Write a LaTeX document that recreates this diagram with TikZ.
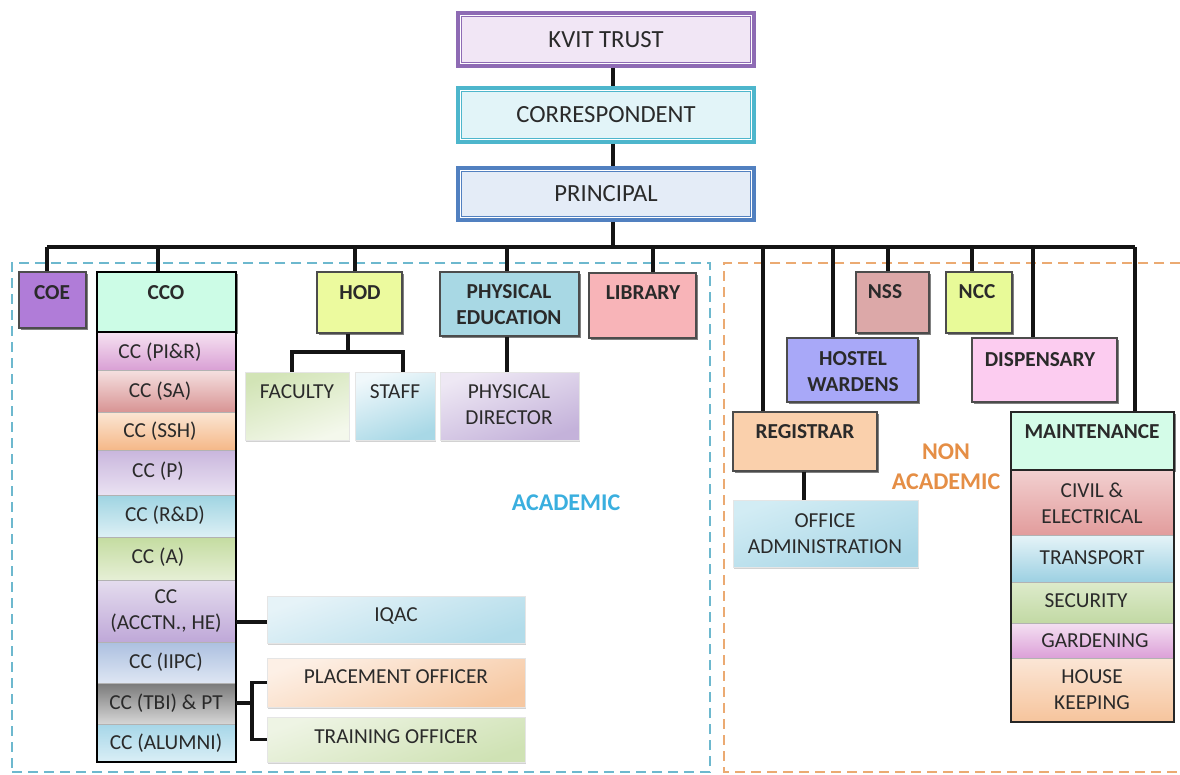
\documentclass[tikz,border=0pt]{standalone}
\usepackage{fontspec}
\setmainfont{Carlito}
\usetikzlibrary{fit,shadows}
\definecolor{txt}{HTML}{2A2A2A}
\definecolor{acadc}{HTML}{3AAFDF}
\definecolor{nonc}{HTML}{E58E45}
\definecolor{acadl}{HTML}{6DB8CE}
\definecolor{nonl}{HTML}{EBAA72}
\definecolor{kvitD}{HTML}{8E6BB4}
\definecolor{kvitL}{HTML}{F1E6F5}
\definecolor{corD}{HTML}{4DB6CC}
\definecolor{corL}{HTML}{E2F4F8}
\definecolor{prinD}{HTML}{5180C0}
\definecolor{prinL}{HTML}{E4ECF7}
\definecolor{coeF}{HTML}{B07CD8}
\definecolor{ccoF}{HTML}{CCFCE6}
\definecolor{hodF}{HTML}{ECFA9E}
\definecolor{peF}{HTML}{A8D8E4}
\definecolor{libF}{HTML}{F8B4B8}
\definecolor{regF}{HTML}{FAD0AC}
\definecolor{hwF}{HTML}{A8A8F8}
\definecolor{nssF}{HTML}{DCA8A8}
\definecolor{nccF}{HTML}{E8FA98}
\definecolor{dispF}{HTML}{FCCCF0}
\definecolor{mntF}{HTML}{D4FCE8}
\begin{document}
\begin{tikzpicture}[x=0.75pt,y=-0.75pt,
  conn/.style={line width=2.3pt, draw=black!92},
  topbox/.style={inner sep=0pt, draw=#1, line width=2.8pt, fill=white},
  bx/.style={inner sep=0pt, draw=black!70, line width=0.8pt, fill=#1,
    drop shadow={shadow xshift=1.3pt, shadow yshift=-1.6pt, fill=black!70, opacity=.7}},
  hexcols/.code 2 args={\definecolor{tmpA}{HTML}{#1}\definecolor{tmpB}{HTML}{#2}},
  soft/.style 2 args={hexcols={#1}{#2}, inner sep=0pt, draw=black!10, line width=0.5pt, top color=tmpA, bottom color=tmpB, shading angle=20,
    drop shadow={shadow xshift=1pt, shadow yshift=-1.3pt, fill=black!35, opacity=.5}},
  crow/.style 2 args={hexcols={#1}{#2}, inner sep=0pt, draw=black!30, line width=0.5pt, top color=tmpA, bottom color=tmpB},
  lb/.style={font=\fontsize{16}{19.5}\selectfont\bfseries, text=txt, align=center, inner sep=0pt},
  lr/.style={font=\fontsize{16}{19.5}\selectfont, text=txt, align=center, inner sep=0pt},
  lt/.style={font=\fontsize{18.5}{22}\selectfont, text=txt, align=center, inner sep=0pt},
  zone/.style={font=\fontsize{18}{22.5}\selectfont\bfseries, text=#1, align=center, inner sep=0pt}
]
\useasboundingbox (0,0) rectangle (1180,774);
\fill[white] (0,0) rectangle (1180,774);

% zones
\node[inner sep=0pt, draw=acadl, line width=1.6pt, dash pattern=on 7.5pt off 4.5pt, fit={(12,263)(710,772)}] (acadzone) {};
\coordinate (nzTR) at (1180,263);
\coordinate (nzBL) at (724,772);
\draw[nonl, line width=1.6pt, dash pattern=on 7.5pt off 4.5pt] (nzTR) -- (nzTR -| nzBL) -- (nzBL) -- (nzBL -| nzTR);

% top chain
\node[topbox=kvitD, fit={(458,13)(754,66)}] (kvit) {};
\draw[kvitD, line width=.9pt, fill=kvitL] ([shift={(4pt,-4pt)}]kvit.north west) rectangle ([shift={(-4pt,4pt)}]kvit.south east);
\node[lt] (tkvit) at (606,40) {KVIT TRUST};
\node[topbox=corD, fit={(458,88)(754,142)}] (corr) {};
\draw[corD, line width=.9pt, fill=corL] ([shift={(4pt,-4pt)}]corr.north west) rectangle ([shift={(-4pt,4pt)}]corr.south east);
\node[lt] (tcorr) at (606,115) {CORRESPONDENT};
\node[topbox=prinD, fit={(458,168)(754,220)}] (prin) {};
\draw[prinD, line width=.9pt, fill=prinL] ([shift={(4pt,-4pt)}]prin.north west) rectangle ([shift={(-4pt,4pt)}]prin.south east);
\node[lt] (tprin) at (606,194) {PRINCIPAL};

\coordinate (spine) at (613,247);
\draw[conn] (spine |- kvit.south) -- (spine |- corr.north);
\draw[conn] (spine |- corr.south) -- (spine |- prin.north);
\draw[conn] (spine |- prin.south) -- (spine);

% bus
\coordinate (busL) at (47,247);
\coordinate (busR) at (1135,247);
\draw[conn] (busL) -- (busR);

% academic nodes
\node[bx=coeF, fit={(19,272)(86,328)}] (coe) {};
\node[lb] (tcoe) at (52,293) {COE};
\node[bx=ccoF, draw=black, line width=1.3pt, fit={(97,272)(236,332)}] (cco) {};
\node[lb] (tcco) at (166,293) {CCO};

\node[crow={F6E2F1}{D9A0D5}, fit={(97,332)(236,370)}] (r1) {};
\node[crow={F5E0E0}{D89494}, fit={(97,370)(236,412)}] (r2) {};
\node[crow={FBE6D4}{F5B888}, fit={(97,412)(236,450)}] (r3) {};
\node[crow={C9B6DD}{EAE2F2}, fit={(97,450)(236,495)}] (r4) {};
\node[crow={9FD4E2}{DDF0F5}, fit={(97,495)(236,537)}] (r5) {};
\node[crow={C4DCA0}{E6EFD6}, fit={(97,537)(236,580)}] (r6) {};
\node[crow={E4DCEE}{BFA8D8}, fit={(97,580)(236,642)}] (r7) {};
\node[crow={ACC0E0}{DEE6F3}, fit={(97,642)(236,683)}] (r8) {};
\node[crow={7A7A7A}{D6D6D6}, fit={(97,683)(236,724)}] (r9) {};
\node[crow={A6D6E8}{DAEFF6}, fit={(97,724)(236,762)}] (r10) {};
\draw[line width=1.6pt, black] (r1.north west) rectangle (r10.south east);
\node[lr] (tr1) at (160,352) {CC (PI\&R)};
\node[lr] (tr2) at (160,391) {CC (SA)};
\node[lr] (tr3) at (160,431) {CC (SSH)};
\node[lr] (tr4) at (158,471) {CC (P)};
\node[lr] (tr5) at (165,515) {CC (R\&D)};
\node[lr] (tr6) at (158,557) {CC (A)};
\node[lr] (tr7) at (166,611) {CC\\(ACCTN., HE)};
\node[lr] (tr8) at (166,662) {CC (IIPC)};
\node[lr] (tr9) at (166,703) {CC (TBI) \& PT};
\node[lr] (tr10) at (166,743) {CC (ALUMNI)};

\node[bx=hodF, fit={(317,272)(402,333)}] (hod) {};
\node[lb] (thod) at (360,293) {HOD};
\node[soft={D2E4B6}{F4F8EC}, fit={(245,372)(349,440)}] (fac) {};
\node[lr] (tfac) at (297,392) {FACULTY};
\node[soft={F0F8FB}{A8D8E6}, fit={(355,372)(435,440)}] (staff) {};
\node[lr] (tstaff) at (395,392) {STAFF};
\node[bx=peF, fit={(440,272)(579,336)}] (pe) {};
\node[lb] (tpe) at (509,305) {PHYSICAL\\EDUCATION};
\node[soft={EEE8F4}{C4B2DA}, fit={(440,372)(579,440)}] (pd) {};
\node[lr] (tpd) at (509,405) {PHYSICAL\\DIRECTOR};
\node[bx=libF, fit={(589,273)(696,338)}] (lib) {};
\node[lb] (tlib) at (643,293) {LIBRARY};

\node[soft={E6F3F8}{B2DCEA}, fit={(267,596)(525,643)}] (iqac) {};
\node[lr] (tiqac) at (396,616) {IQAC};
\node[soft={FDF0E6}{F6C8A2}, fit={(267,658)(525,707)}] (plc) {};
\node[lr] (tplc) at (396,677) {PLACEMENT OFFICER};
\node[soft={EEF4E4}{CFE2B4}, fit={(267,717)(525,762)}] (trn) {};
\node[lr] (ttrn) at (396,737) {TRAINING OFFICER};

% academic connectors
\coordinate (dCOE) at (47,247);
\coordinate (dCCO) at (158,247);
\coordinate (dHOD) at (355,247);
\coordinate (dPE) at (507,247);
\coordinate (dLIB) at (653,247);
\draw[conn] (dCOE) -- (dCOE |- coe.north);
\draw[conn] (dCCO) -- (dCCO |- cco.north);
\draw[conn] (dHOD) -- (dHOD |- hod.north);
\draw[conn] (dPE) -- (dPE |- pe.north);
\draw[conn] (dLIB) -- (dLIB |- lib.north);
\coordinate (hj) at (348,352);
\coordinate (hjl) at (292,352);
\coordinate (hjr) at (403,352);
\draw[conn] (hj |- hod.south) -- (hj);
\draw[conn] (hjl |- fac.north) -- (hjl) -- (hjr) -- (hjr |- staff.north);
\draw[conn] (dPE |- pe.south) -- (dPE |- pd.north);
\coordinate (iq) at (252,622);
\draw[conn] (iq -| r7.east) -- (iq -| iqac.west);
\coordinate (tj) at (252,703);
\draw[conn] (tj -| r9.east) -- (tj);
\draw[conn] (plc.west) -| (tj) |- (trn.west);

% non academic nodes
\node[bx=nssF, fit={(856,272)(929,333)}] (nss) {};
\node[lb] (tnss) at (885,292) {NSS};
\node[bx=nccF, fit={(946,272)(1012,333)}] (ncc) {};
\node[lb] (tncc) at (977,292) {NCC};
\node[bx=hwF, fit={(787,338)(918,402)}] (hw) {};
\node[lb] (thw) at (853,372) {HOSTEL\\WARDENS};
\node[bx=dispF, fit={(972,338)(1117,402)}] (disp) {};
\node[lb] (tdisp) at (1040,360) {DISPENSARY};
\node[bx=regF, fit={(733,412)(877,471)}] (reg) {};
\node[lb] (treg) at (805,432) {REGISTRAR};
\node[soft={D2ECF4}{A8D6E6}, fit={(733,500)(918,567)}] (oa) {};
\node[lr] (toa) at (825,534) {OFFICE\\ADMINISTRATION};

\node[bx=mntF, draw=black!85, line width=1.3pt, fit={(1011,412)(1174,470)}] (mnt) {};
\node[lb] (tmnt) at (1092,432) {MAINTENANCE};
\node[crow={F2D0D0}{E29C9C}, fit={(1011,470)(1174,535)}] (m1) {};
\node[crow={E6F4F8}{9CD0E2}, fit={(1011,535)(1174,582)}] (m2) {};
\node[crow={DDEBCB}{C2D9A4}, fit={(1011,582)(1174,623)}] (m3) {};
\node[crow={F4E0F2}{DCA0D8}, fit={(1011,623)(1174,658)}] (m4) {};
\node[crow={FBE6D6}{F6C49C}, fit={(1011,658)(1174,722)}] (m5) {};
\draw[line width=1.6pt, black!85] (m1.north west) rectangle (m5.south east);
\node[lr] (tm1) at (1092,503) {CIVIL \&\\ELECTRICAL};
\node[lr] (tm2) at (1092,558) {TRANSPORT};
\node[lr] (tm3) at (1086,601) {SECURITY};
\node[lr] (tm4) at (1095,641) {GARDENING};
\node[lr] (tm5) at (1092,690) {HOUSE\\KEEPING};

% non academic connectors
\coordinate (dREG) at (763,247);
\coordinate (dHW) at (833,247);
\coordinate (dNSS) at (888,247);
\coordinate (dNCC) at (972,247);
\coordinate (dDISP) at (1033,247);
\coordinate (dMNT) at (1135,247);
\draw[conn] (dREG) -- (dREG |- reg.north);
\draw[conn] (dHW) -- (dHW |- hw.north);
\draw[conn] (dNSS) -- (dNSS |- nss.north);
\draw[conn] (dNCC) -- (dNCC |- ncc.north);
\draw[conn] (dDISP) -- (dDISP |- disp.north);
\draw[conn] (dMNT) -- (dMNT |- mnt.north);
\coordinate (ro) at (804,480);
\draw[conn] (ro |- reg.south) -- (ro |- oa.north);

% zone labels
\node[zone=acadc] (lacad) at (566,503) {ACADEMIC};
\node[zone=nonc] (lnon) at (946,467) {NON\\ACADEMIC};
\end{tikzpicture}
\end{document}
